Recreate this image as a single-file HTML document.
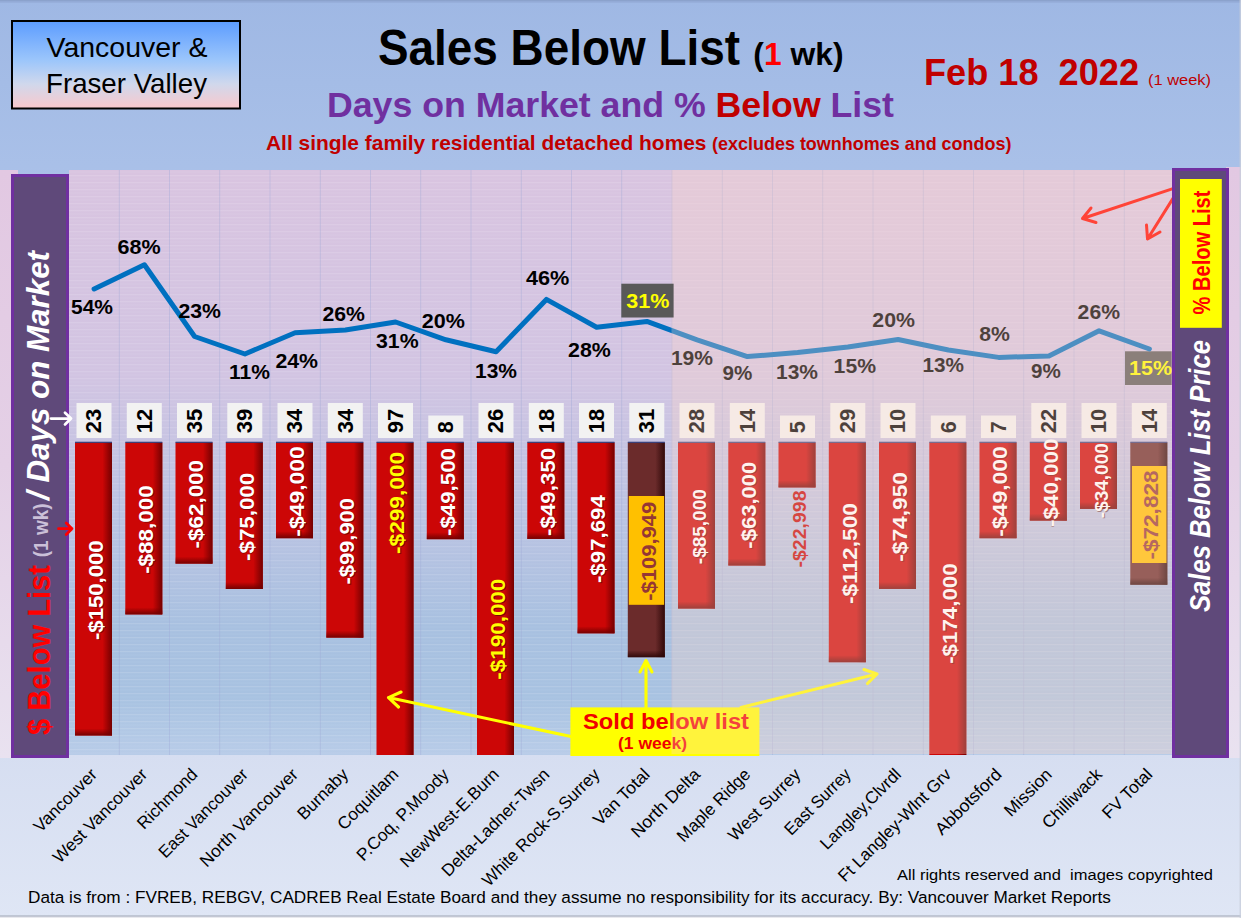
<!DOCTYPE html>
<html><head><meta charset="utf-8"><title>Sales Below List</title>
<style>html,body{margin:0;padding:0;background:#a4bce6;}body{width:1241px;height:918px;overflow:hidden;font-family:"Liberation Sans",sans-serif;}svg{display:block;}</style></head>
<body>
<svg width="1241" height="918" viewBox="0 0 1241 918" font-family="Liberation Sans, sans-serif">
<defs>
<linearGradient id="bg" x1="0" y1="0" x2="0" y2="1">
<stop offset="0" stop-color="#9fb8e4"/><stop offset="0.18" stop-color="#a9c0e8"/><stop offset="0.82" stop-color="#d6def1"/><stop offset="1" stop-color="#dfe6f5"/></linearGradient>
<linearGradient id="plot" x1="0" y1="0" x2="0" y2="1">
<stop offset="0" stop-color="#d9c4e0"/><stop offset="0.35" stop-color="#d2c4e2"/><stop offset="0.60" stop-color="#bac3e2"/><stop offset="0.78" stop-color="#a8c0e0"/><stop offset="0.9" stop-color="#a8c2e1"/><stop offset="1" stop-color="#b8cce8"/></linearGradient>
<linearGradient id="lstrip" x1="0" y1="0" x2="0" y2="1">
<stop offset="0" stop-color="#e2c8e2"/><stop offset="0.5" stop-color="#e4d0e6"/><stop offset="1" stop-color="#e9e2f0"/></linearGradient>
<linearGradient id="tbox" x1="0" y1="0" x2="0" y2="1">
<stop offset="0" stop-color="#5c9cff"/><stop offset="0.45" stop-color="#9cc6fb"/><stop offset="0.72" stop-color="#d0d8ec"/><stop offset="1" stop-color="#fac8cc"/></linearGradient>
<linearGradient id="er" x1="0" y1="0" x2="1" y2="0"><stop offset="0" stop-color="#700000" stop-opacity="0"/><stop offset="1" stop-color="#700000" stop-opacity="0.95"/></linearGradient>
<linearGradient id="eb" x1="0" y1="0" x2="0" y2="1"><stop offset="0" stop-color="#700000" stop-opacity="0"/><stop offset="1" stop-color="#700000" stop-opacity="0.95"/></linearGradient>
<linearGradient id="erd" x1="0" y1="0" x2="1" y2="0"><stop offset="0" stop-color="#2a0606" stop-opacity="0"/><stop offset="1" stop-color="#2a0606" stop-opacity="0.9"/></linearGradient>
<linearGradient id="ebd" x1="0" y1="0" x2="0" y2="1"><stop offset="0" stop-color="#2a0606" stop-opacity="0"/><stop offset="1" stop-color="#2a0606" stop-opacity="0.9"/></linearGradient>
<pattern id="stripes" width="4" height="7" patternUnits="userSpaceOnUse"><rect width="4" height="1.2" fill="#ffffff" opacity="0.12"/><rect y="3.5" width="4" height="1" fill="#ffffff" opacity="0.05"/></pattern>
<clipPath id="plotclip"><rect x="0" y="0" width="1241" height="755"/></clipPath>
</defs>
<rect width="1241" height="918" fill="url(#bg)"/>
<rect x="0" y="0" width="1241" height="1.2" fill="#7f93bd" opacity="0.6"/><rect x="0" y="1.2" width="1241" height="1.6" fill="#7f93bd" opacity="0.28"/>
<rect x="0" y="170" width="18" height="588" fill="url(#lstrip)"/>
<rect x="1226" y="167" width="15" height="591" fill="url(#lstrip)"/>
<rect x="69.0" y="170" width="1105.0" height="585" fill="url(#plot)"/>
<rect x="69.0" y="170" width="1105.0" height="585" fill="url(#stripes)"/>
<rect x="118.8" y="170" width="1" height="585" fill="#9fa8d8" opacity="0.38"/>
<rect x="169.0" y="170" width="1" height="585" fill="#9fa8d8" opacity="0.38"/>
<rect x="219.2" y="170" width="1" height="585" fill="#9fa8d8" opacity="0.38"/>
<rect x="269.5" y="170" width="1" height="585" fill="#9fa8d8" opacity="0.38"/>
<rect x="319.8" y="170" width="1" height="585" fill="#9fa8d8" opacity="0.38"/>
<rect x="370.0" y="170" width="1" height="585" fill="#9fa8d8" opacity="0.38"/>
<rect x="420.2" y="170" width="1" height="585" fill="#9fa8d8" opacity="0.38"/>
<rect x="470.5" y="170" width="1" height="585" fill="#9fa8d8" opacity="0.38"/>
<rect x="520.8" y="170" width="1" height="585" fill="#9fa8d8" opacity="0.38"/>
<rect x="571.0" y="170" width="1" height="585" fill="#9fa8d8" opacity="0.38"/>
<rect x="621.2" y="170" width="1" height="585" fill="#9fa8d8" opacity="0.38"/>
<rect x="671.5" y="170" width="1" height="585" fill="#9fa8d8" opacity="0.38"/>
<rect x="721.8" y="170" width="1" height="585" fill="#9fa8d8" opacity="0.38"/>
<rect x="772.0" y="170" width="1" height="585" fill="#9fa8d8" opacity="0.38"/>
<rect x="822.2" y="170" width="1" height="585" fill="#9fa8d8" opacity="0.38"/>
<rect x="872.5" y="170" width="1" height="585" fill="#9fa8d8" opacity="0.38"/>
<rect x="922.8" y="170" width="1" height="585" fill="#9fa8d8" opacity="0.38"/>
<rect x="973.0" y="170" width="1" height="585" fill="#9fa8d8" opacity="0.38"/>
<rect x="1023.2" y="170" width="1" height="585" fill="#9fa8d8" opacity="0.38"/>
<rect x="1073.5" y="170" width="1" height="585" fill="#9fa8d8" opacity="0.38"/>
<rect x="1123.8" y="170" width="1" height="585" fill="#9fa8d8" opacity="0.38"/>
<rect x="12" y="21" width="228" height="87.5" fill="url(#tbox)" stroke="#000" stroke-width="2"/>
<text x="46.5" y="56.8" font-size="28" textLength="161" lengthAdjust="spacingAndGlyphs">Vancouver &amp;</text>
<text x="46" y="93.4" font-size="28" textLength="161" lengthAdjust="spacingAndGlyphs">Fraser Valley</text>
<text x="378" y="64.7" font-size="49.5" font-weight="bold" textLength="362" lengthAdjust="spacingAndGlyphs">Sales Below List</text>
<text x="753.3" y="64.8" font-size="31" font-weight="bold" textLength="90.2" lengthAdjust="spacingAndGlyphs">(<tspan fill="#f00">1</tspan> wk)</text>
<text x="327" y="117" font-size="35" font-weight="bold" fill="#7030a0" textLength="567" lengthAdjust="spacingAndGlyphs">Days on Market and % <tspan fill="#c00000">Below</tspan> List</text>
<text x="266" y="150" font-size="21" font-weight="bold" fill="#c00000" textLength="440.5" lengthAdjust="spacingAndGlyphs">All single family residential detached homes</text>
<text x="712" y="150" font-size="18.5" font-weight="bold" fill="#c00000" textLength="299.5" lengthAdjust="spacingAndGlyphs">(excludes townhomes and condos)</text>
<text x="924" y="84.5" font-size="36.5" font-weight="bold" fill="#c00000" textLength="215" lengthAdjust="spacingAndGlyphs" xml:space="preserve" style="white-space:pre">Feb 18  2022</text>
<text x="1148" y="84.5" font-size="15.5" fill="#c00000" textLength="63" lengthAdjust="spacingAndGlyphs">(1 week)</text>
<rect x="76.5" y="403" width="35" height="35" fill="#f2f2f2"/>
<text transform="translate(101.3 421.0) rotate(-90)" text-anchor="middle" font-size="21.6" font-weight="bold" textLength="24.5" lengthAdjust="spacingAndGlyphs">23</text>
<rect x="126.8" y="403" width="35" height="35" fill="#f2f2f2"/>
<text transform="translate(151.6 421.0) rotate(-90)" text-anchor="middle" font-size="21.6" font-weight="bold" textLength="24.5" lengthAdjust="spacingAndGlyphs">12</text>
<rect x="177.0" y="403" width="35" height="35" fill="#f2f2f2"/>
<text transform="translate(201.8 421.0) rotate(-90)" text-anchor="middle" font-size="21.6" font-weight="bold" textLength="24.5" lengthAdjust="spacingAndGlyphs">35</text>
<rect x="227.3" y="403" width="35" height="35" fill="#f2f2f2"/>
<text transform="translate(252.1 421.0) rotate(-90)" text-anchor="middle" font-size="21.6" font-weight="bold" textLength="24.5" lengthAdjust="spacingAndGlyphs">39</text>
<rect x="277.5" y="403" width="35" height="35" fill="#f2f2f2"/>
<text transform="translate(302.3 421.0) rotate(-90)" text-anchor="middle" font-size="21.6" font-weight="bold" textLength="24.5" lengthAdjust="spacingAndGlyphs">34</text>
<rect x="327.8" y="403" width="35" height="35" fill="#f2f2f2"/>
<text transform="translate(352.6 421.0) rotate(-90)" text-anchor="middle" font-size="21.6" font-weight="bold" textLength="24.5" lengthAdjust="spacingAndGlyphs">34</text>
<rect x="378.0" y="403" width="35" height="35" fill="#f2f2f2"/>
<text transform="translate(402.8 421.0) rotate(-90)" text-anchor="middle" font-size="21.6" font-weight="bold" textLength="24.5" lengthAdjust="spacingAndGlyphs">97</text>
<rect x="428.3" y="415.5" width="35" height="22.5" fill="#f2f2f2"/>
<text transform="translate(453.1 427.2) rotate(-90)" text-anchor="middle" font-size="21.6" font-weight="bold" textLength="12" lengthAdjust="spacingAndGlyphs">8</text>
<rect x="478.5" y="403" width="35" height="35" fill="#f2f2f2"/>
<text transform="translate(503.3 421.0) rotate(-90)" text-anchor="middle" font-size="21.6" font-weight="bold" textLength="24.5" lengthAdjust="spacingAndGlyphs">26</text>
<rect x="528.8" y="403" width="35" height="35" fill="#f2f2f2"/>
<text transform="translate(553.6 421.0) rotate(-90)" text-anchor="middle" font-size="21.6" font-weight="bold" textLength="24.5" lengthAdjust="spacingAndGlyphs">18</text>
<rect x="579.0" y="403" width="35" height="35" fill="#f2f2f2"/>
<text transform="translate(603.8 421.0) rotate(-90)" text-anchor="middle" font-size="21.6" font-weight="bold" textLength="24.5" lengthAdjust="spacingAndGlyphs">18</text>
<rect x="629.3" y="403" width="35" height="35" fill="#f2f2f2"/>
<text transform="translate(654.1 421.0) rotate(-90)" text-anchor="middle" font-size="21.6" font-weight="bold" textLength="24.5" lengthAdjust="spacingAndGlyphs">31</text>
<rect x="679.5" y="403" width="35" height="35" fill="#f2f2f2"/>
<text transform="translate(704.3 421.0) rotate(-90)" text-anchor="middle" font-size="21.6" font-weight="bold" textLength="24.5" lengthAdjust="spacingAndGlyphs">28</text>
<rect x="729.8" y="403" width="35" height="35" fill="#f2f2f2"/>
<text transform="translate(754.6 421.0) rotate(-90)" text-anchor="middle" font-size="21.6" font-weight="bold" textLength="24.5" lengthAdjust="spacingAndGlyphs">14</text>
<rect x="780.0" y="415.5" width="35" height="22.5" fill="#f2f2f2"/>
<text transform="translate(804.8 427.2) rotate(-90)" text-anchor="middle" font-size="21.6" font-weight="bold" textLength="12" lengthAdjust="spacingAndGlyphs">5</text>
<rect x="830.3" y="403" width="35" height="35" fill="#f2f2f2"/>
<text transform="translate(855.1 421.0) rotate(-90)" text-anchor="middle" font-size="21.6" font-weight="bold" textLength="24.5" lengthAdjust="spacingAndGlyphs">29</text>
<rect x="880.5" y="403" width="35" height="35" fill="#f2f2f2"/>
<text transform="translate(905.3 421.0) rotate(-90)" text-anchor="middle" font-size="21.6" font-weight="bold" textLength="24.5" lengthAdjust="spacingAndGlyphs">10</text>
<rect x="930.8" y="415.5" width="35" height="22.5" fill="#f2f2f2"/>
<text transform="translate(955.6 427.2) rotate(-90)" text-anchor="middle" font-size="21.6" font-weight="bold" textLength="12" lengthAdjust="spacingAndGlyphs">6</text>
<rect x="981.0" y="415.5" width="35" height="22.5" fill="#f2f2f2"/>
<text transform="translate(1005.8 427.2) rotate(-90)" text-anchor="middle" font-size="21.6" font-weight="bold" textLength="12" lengthAdjust="spacingAndGlyphs">7</text>
<rect x="1031.3" y="403" width="35" height="35" fill="#f2f2f2"/>
<text transform="translate(1056.1 421.0) rotate(-90)" text-anchor="middle" font-size="21.6" font-weight="bold" textLength="24.5" lengthAdjust="spacingAndGlyphs">22</text>
<rect x="1081.5" y="403" width="35" height="35" fill="#f2f2f2"/>
<text transform="translate(1106.3 421.0) rotate(-90)" text-anchor="middle" font-size="21.6" font-weight="bold" textLength="24.5" lengthAdjust="spacingAndGlyphs">10</text>
<rect x="1131.8" y="403" width="35" height="35" fill="#f2f2f2"/>
<text transform="translate(1156.6 421.0) rotate(-90)" text-anchor="middle" font-size="21.6" font-weight="bold" textLength="24.5" lengthAdjust="spacingAndGlyphs">14</text>
<g clip-path="url(#plotclip)">
<rect x="75.0" y="442.5" width="37" height="293.0" fill="#cc0606"/>
<rect x="102.5" y="442.5" width="9.5" height="293.0" fill="url(#er)"/>
<rect x="75.0" y="728.5" width="37" height="7" fill="url(#eb)"/>
<rect x="75.0" y="441.7" width="37" height="1.2" fill="#303a78"/>
<rect x="125.3" y="442.5" width="37" height="171.9" fill="#cc0606"/>
<rect x="152.8" y="442.5" width="9.5" height="171.9" fill="url(#er)"/>
<rect x="125.3" y="607.4" width="37" height="7" fill="url(#eb)"/>
<rect x="125.3" y="441.7" width="37" height="1.2" fill="#303a78"/>
<rect x="175.5" y="442.5" width="37" height="121.1" fill="#cc0606"/>
<rect x="203.0" y="442.5" width="9.5" height="121.1" fill="url(#er)"/>
<rect x="175.5" y="556.6" width="37" height="7" fill="url(#eb)"/>
<rect x="175.5" y="441.7" width="37" height="1.2" fill="#303a78"/>
<rect x="225.8" y="442.5" width="37" height="146.5" fill="#cc0606"/>
<rect x="253.3" y="442.5" width="9.5" height="146.5" fill="url(#er)"/>
<rect x="225.8" y="582.0" width="37" height="7" fill="url(#eb)"/>
<rect x="225.8" y="441.7" width="37" height="1.2" fill="#303a78"/>
<rect x="276.0" y="442.5" width="37" height="95.7" fill="#cc0606"/>
<rect x="303.5" y="442.5" width="9.5" height="95.7" fill="url(#er)"/>
<rect x="276.0" y="531.2" width="37" height="7" fill="url(#eb)"/>
<rect x="276.0" y="441.7" width="37" height="1.2" fill="#303a78"/>
<rect x="326.3" y="442.5" width="37" height="195.1" fill="#cc0606"/>
<rect x="353.8" y="442.5" width="9.5" height="195.1" fill="url(#er)"/>
<rect x="326.3" y="630.6" width="37" height="7" fill="url(#eb)"/>
<rect x="326.3" y="441.7" width="37" height="1.2" fill="#303a78"/>
<rect x="376.5" y="442.5" width="37" height="583.9" fill="#cc0606"/>
<rect x="404.0" y="442.5" width="9.5" height="583.9" fill="url(#er)"/>
<rect x="376.5" y="441.7" width="37" height="1.2" fill="#303a78"/>
<rect x="426.8" y="442.5" width="37" height="96.7" fill="#cc0606"/>
<rect x="454.3" y="442.5" width="9.5" height="96.7" fill="url(#er)"/>
<rect x="426.8" y="532.2" width="37" height="7" fill="url(#eb)"/>
<rect x="426.8" y="441.7" width="37" height="1.2" fill="#303a78"/>
<rect x="477.0" y="442.5" width="37" height="371.1" fill="#cc0606"/>
<rect x="504.5" y="442.5" width="9.5" height="371.1" fill="url(#er)"/>
<rect x="477.0" y="441.7" width="37" height="1.2" fill="#303a78"/>
<rect x="527.3" y="442.5" width="37" height="96.4" fill="#cc0606"/>
<rect x="554.8" y="442.5" width="9.5" height="96.4" fill="url(#er)"/>
<rect x="527.3" y="531.9" width="37" height="7" fill="url(#eb)"/>
<rect x="527.3" y="441.7" width="37" height="1.2" fill="#303a78"/>
<rect x="577.5" y="442.5" width="37" height="190.8" fill="#cc0606"/>
<rect x="605.0" y="442.5" width="9.5" height="190.8" fill="url(#er)"/>
<rect x="577.5" y="626.3" width="37" height="7" fill="url(#eb)"/>
<rect x="577.5" y="441.7" width="37" height="1.2" fill="#303a78"/>
<rect x="627.8" y="442.5" width="37" height="214.7" fill="#6b2b2b"/>
<rect x="655.3" y="442.5" width="9.5" height="214.7" fill="url(#erd)"/>
<rect x="627.8" y="650.2" width="37" height="7" fill="url(#ebd)"/>
<rect x="627.8" y="441.7" width="37" height="1.2" fill="#303a78"/>
<rect x="678.0" y="442.5" width="37" height="166.0" fill="#cc0606"/>
<rect x="705.5" y="442.5" width="9.5" height="166.0" fill="url(#er)"/>
<rect x="678.0" y="601.5" width="37" height="7" fill="url(#eb)"/>
<rect x="678.0" y="441.7" width="37" height="1.2" fill="#303a78"/>
<rect x="728.3" y="442.5" width="37" height="123.0" fill="#cc0606"/>
<rect x="755.8" y="442.5" width="9.5" height="123.0" fill="url(#er)"/>
<rect x="728.3" y="558.5" width="37" height="7" fill="url(#eb)"/>
<rect x="728.3" y="441.7" width="37" height="1.2" fill="#303a78"/>
<rect x="778.5" y="442.5" width="37" height="44.9" fill="#cc0606"/>
<rect x="806.0" y="442.5" width="9.5" height="44.9" fill="url(#er)"/>
<rect x="778.5" y="480.4" width="37" height="7" fill="url(#eb)"/>
<rect x="778.5" y="441.7" width="37" height="1.2" fill="#303a78"/>
<rect x="828.8" y="442.5" width="37" height="219.7" fill="#cc0606"/>
<rect x="856.3" y="442.5" width="9.5" height="219.7" fill="url(#er)"/>
<rect x="828.8" y="655.2" width="37" height="7" fill="url(#eb)"/>
<rect x="828.8" y="441.7" width="37" height="1.2" fill="#303a78"/>
<rect x="879.0" y="442.5" width="37" height="146.4" fill="#cc0606"/>
<rect x="906.5" y="442.5" width="9.5" height="146.4" fill="url(#er)"/>
<rect x="879.0" y="581.9" width="37" height="7" fill="url(#eb)"/>
<rect x="879.0" y="441.7" width="37" height="1.2" fill="#303a78"/>
<rect x="929.3" y="442.5" width="37" height="339.8" fill="#cc0606"/>
<rect x="956.8" y="442.5" width="9.5" height="339.8" fill="url(#er)"/>
<rect x="929.3" y="441.7" width="37" height="1.2" fill="#303a78"/>
<rect x="979.5" y="442.5" width="37" height="95.7" fill="#cc0606"/>
<rect x="1007.0" y="442.5" width="9.5" height="95.7" fill="url(#er)"/>
<rect x="979.5" y="531.2" width="37" height="7" fill="url(#eb)"/>
<rect x="979.5" y="441.7" width="37" height="1.2" fill="#303a78"/>
<rect x="1029.8" y="442.5" width="37" height="78.1" fill="#cc0606"/>
<rect x="1057.3" y="442.5" width="9.5" height="78.1" fill="url(#er)"/>
<rect x="1029.8" y="513.6" width="37" height="7" fill="url(#eb)"/>
<rect x="1029.8" y="441.7" width="37" height="1.2" fill="#303a78"/>
<rect x="1080.0" y="442.5" width="37" height="66.4" fill="#cc0606"/>
<rect x="1107.5" y="442.5" width="9.5" height="66.4" fill="url(#er)"/>
<rect x="1080.0" y="501.9" width="37" height="7" fill="url(#eb)"/>
<rect x="1080.0" y="441.7" width="37" height="1.2" fill="#303a78"/>
<rect x="1130.3" y="442.5" width="37" height="142.2" fill="#6b2b2b"/>
<rect x="1157.8" y="442.5" width="9.5" height="142.2" fill="url(#erd)"/>
<rect x="1130.3" y="577.7" width="37" height="7" fill="url(#ebd)"/>
<rect x="1130.3" y="441.7" width="37" height="1.2" fill="#303a78"/>
</g>
<rect x="628.8" y="496" width="35.3" height="108.8" fill="#ffc000"/>
<rect x="1132" y="466" width="34.5" height="97" fill="#ffc000"/>
<text transform="translate(103.6 591.0) rotate(-90)" text-anchor="middle" font-size="20.7" font-weight="bold" fill="#400000" opacity="0.55" textLength="99.7" lengthAdjust="spacingAndGlyphs">-$150,000</text>
<text transform="translate(102.8 590.2) rotate(-90)" text-anchor="middle" font-size="20.7" font-weight="bold" fill="#fff" textLength="99.7" lengthAdjust="spacingAndGlyphs">-$150,000</text>
<text transform="translate(153.9 530.4) rotate(-90)" text-anchor="middle" font-size="20.7" font-weight="bold" fill="#400000" opacity="0.55" textLength="88.5" lengthAdjust="spacingAndGlyphs">-$88,000</text>
<text transform="translate(153.1 529.6) rotate(-90)" text-anchor="middle" font-size="20.7" font-weight="bold" fill="#fff" textLength="88.5" lengthAdjust="spacingAndGlyphs">-$88,000</text>
<text transform="translate(204.1 505.0) rotate(-90)" text-anchor="middle" font-size="20.7" font-weight="bold" fill="#400000" opacity="0.55" textLength="88.5" lengthAdjust="spacingAndGlyphs">-$62,000</text>
<text transform="translate(203.3 504.2) rotate(-90)" text-anchor="middle" font-size="20.7" font-weight="bold" fill="#fff" textLength="88.5" lengthAdjust="spacingAndGlyphs">-$62,000</text>
<text transform="translate(254.4 517.7) rotate(-90)" text-anchor="middle" font-size="20.7" font-weight="bold" fill="#400000" opacity="0.55" textLength="88.0" lengthAdjust="spacingAndGlyphs">-$75,000</text>
<text transform="translate(253.6 516.9) rotate(-90)" text-anchor="middle" font-size="20.7" font-weight="bold" fill="#fff" textLength="88.0" lengthAdjust="spacingAndGlyphs">-$75,000</text>
<text transform="translate(304.6 492.3) rotate(-90)" text-anchor="middle" font-size="20.7" font-weight="bold" fill="#400000" opacity="0.55" textLength="90.5" lengthAdjust="spacingAndGlyphs">-$49,000</text>
<text transform="translate(303.8 491.5) rotate(-90)" text-anchor="middle" font-size="20.7" font-weight="bold" fill="#fff" textLength="90.5" lengthAdjust="spacingAndGlyphs">-$49,000</text>
<text transform="translate(354.9 542.1) rotate(-90)" text-anchor="middle" font-size="20.7" font-weight="bold" fill="#400000" opacity="0.55" textLength="86.6" lengthAdjust="spacingAndGlyphs">-$99,900</text>
<text transform="translate(354.1 541.3) rotate(-90)" text-anchor="middle" font-size="20.7" font-weight="bold" fill="#fff" textLength="86.6" lengthAdjust="spacingAndGlyphs">-$99,900</text>
<text transform="translate(405.1 503.8) rotate(-90)" text-anchor="middle" font-size="20.7" font-weight="bold" fill="#400000" opacity="0.55" textLength="102.0" lengthAdjust="spacingAndGlyphs">-$299,000</text>
<text transform="translate(404.3 503.0) rotate(-90)" text-anchor="middle" font-size="20.7" font-weight="bold" fill="#ffff00" textLength="102.0" lengthAdjust="spacingAndGlyphs">-$299,000</text>
<text transform="translate(455.4 492.8) rotate(-90)" text-anchor="middle" font-size="20.7" font-weight="bold" fill="#400000" opacity="0.55" textLength="88.0" lengthAdjust="spacingAndGlyphs">-$49,500</text>
<text transform="translate(454.6 492.0) rotate(-90)" text-anchor="middle" font-size="20.7" font-weight="bold" fill="#fff" textLength="88.0" lengthAdjust="spacingAndGlyphs">-$49,500</text>
<text transform="translate(505.6 630.0) rotate(-90)" text-anchor="middle" font-size="20.7" font-weight="bold" fill="#400000" opacity="0.55" textLength="101.0" lengthAdjust="spacingAndGlyphs">-$190,000</text>
<text transform="translate(504.8 629.2) rotate(-90)" text-anchor="middle" font-size="20.7" font-weight="bold" fill="#ffff00" textLength="101.0" lengthAdjust="spacingAndGlyphs">-$190,000</text>
<text transform="translate(555.9 492.7) rotate(-90)" text-anchor="middle" font-size="20.7" font-weight="bold" fill="#400000" opacity="0.55" textLength="88.0" lengthAdjust="spacingAndGlyphs">-$49,350</text>
<text transform="translate(555.1 491.9) rotate(-90)" text-anchor="middle" font-size="20.7" font-weight="bold" fill="#fff" textLength="88.0" lengthAdjust="spacingAndGlyphs">-$49,350</text>
<text transform="translate(606.1 539.9) rotate(-90)" text-anchor="middle" font-size="20.7" font-weight="bold" fill="#400000" opacity="0.55" textLength="88.0" lengthAdjust="spacingAndGlyphs">-$97,694</text>
<text transform="translate(605.3 539.1) rotate(-90)" text-anchor="middle" font-size="20.7" font-weight="bold" fill="#fff" textLength="88.0" lengthAdjust="spacingAndGlyphs">-$97,694</text>
<text transform="translate(655.6 551.2) rotate(-90)" text-anchor="middle" font-size="20.7" font-weight="bold" fill="#953735" textLength="99.0" lengthAdjust="spacingAndGlyphs">-$109,949</text>
<text transform="translate(706.6 527.5) rotate(-90)" text-anchor="middle" font-size="18" font-weight="bold" fill="#400000" opacity="0.55" textLength="75.0" lengthAdjust="spacingAndGlyphs">-$85,000</text>
<text transform="translate(705.8 526.7) rotate(-90)" text-anchor="middle" font-size="18" font-weight="bold" fill="#fff" textLength="75.0" lengthAdjust="spacingAndGlyphs">-$85,000</text>
<text transform="translate(756.9 506.0) rotate(-90)" text-anchor="middle" font-size="20.7" font-weight="bold" fill="#400000" opacity="0.55" textLength="87.0" lengthAdjust="spacingAndGlyphs">-$63,000</text>
<text transform="translate(756.1 505.2) rotate(-90)" text-anchor="middle" font-size="20.7" font-weight="bold" fill="#fff" textLength="87.0" lengthAdjust="spacingAndGlyphs">-$63,000</text>
<text transform="translate(805.5 529.0) rotate(-90)" text-anchor="middle" font-size="17.5" font-weight="bold" fill="#c40808" textLength="77.0" lengthAdjust="spacingAndGlyphs">-$22,998</text>
<text transform="translate(857.4 554.4) rotate(-90)" text-anchor="middle" font-size="20.7" font-weight="bold" fill="#400000" opacity="0.55" textLength="101.0" lengthAdjust="spacingAndGlyphs">-$112,500</text>
<text transform="translate(856.6 553.6) rotate(-90)" text-anchor="middle" font-size="20.7" font-weight="bold" fill="#fff" textLength="101.0" lengthAdjust="spacingAndGlyphs">-$112,500</text>
<text transform="translate(907.6 517.7) rotate(-90)" text-anchor="middle" font-size="20.7" font-weight="bold" fill="#400000" opacity="0.55" textLength="89.7" lengthAdjust="spacingAndGlyphs">-$74,950</text>
<text transform="translate(906.8 516.9) rotate(-90)" text-anchor="middle" font-size="20.7" font-weight="bold" fill="#fff" textLength="89.7" lengthAdjust="spacingAndGlyphs">-$74,950</text>
<text transform="translate(957.9 614.4) rotate(-90)" text-anchor="middle" font-size="20.7" font-weight="bold" fill="#400000" opacity="0.55" textLength="100.5" lengthAdjust="spacingAndGlyphs">-$174,000</text>
<text transform="translate(957.1 613.6) rotate(-90)" text-anchor="middle" font-size="20.7" font-weight="bold" fill="#fff" textLength="100.5" lengthAdjust="spacingAndGlyphs">-$174,000</text>
<text transform="translate(1008.1 492.3) rotate(-90)" text-anchor="middle" font-size="20.7" font-weight="bold" fill="#400000" opacity="0.55" textLength="90.5" lengthAdjust="spacingAndGlyphs">-$49,000</text>
<text transform="translate(1007.3 491.5) rotate(-90)" text-anchor="middle" font-size="20.7" font-weight="bold" fill="#fff" textLength="90.5" lengthAdjust="spacingAndGlyphs">-$49,000</text>
<text transform="translate(1058.4 483.6) rotate(-90)" text-anchor="middle" font-size="20.7" font-weight="bold" fill="#400000" opacity="0.55" textLength="88.3" lengthAdjust="spacingAndGlyphs">-$40,000</text>
<text transform="translate(1057.6 482.8) rotate(-90)" text-anchor="middle" font-size="20.7" font-weight="bold" fill="#fff" textLength="88.3" lengthAdjust="spacingAndGlyphs">-$40,000</text>
<text transform="translate(1108.6 481.5) rotate(-90)" text-anchor="middle" font-size="18" font-weight="bold" fill="#400000" opacity="0.55" textLength="75.0" lengthAdjust="spacingAndGlyphs">-$34,000</text>
<text transform="translate(1107.8 480.7) rotate(-90)" text-anchor="middle" font-size="18" font-weight="bold" fill="#fff" textLength="75.0" lengthAdjust="spacingAndGlyphs">-$34,000</text>
<text transform="translate(1158.1 515.0) rotate(-90)" text-anchor="middle" font-size="20.7" font-weight="bold" fill="#953735" textLength="89.0" lengthAdjust="spacingAndGlyphs">-$72,828</text>
<rect x="1125" y="351.3" width="46.7" height="33.7" fill="#595959"/>
<polyline points="94.1,289 144.4,264.8 194.6,336.5 244.9,354 295.1,332.8 345.4,330 395.6,322 445.9,339.8 496.1,351.8 546.4,299.4 596.6,327.3 646.9,321.4 697.1,339.8 747.4,356.6 797.6,352.5 847.9,347 898.1,339.5 948.4,350 998.6,357.4 1048.9,356 1099.1,330.8 1149.4,349" fill="none" stroke="#0070c0" stroke-width="5" stroke-linejoin="round" stroke-linecap="round"/>
<text x="71.0" y="313.6" font-size="21" font-weight="bold" fill="#000" textLength="42.0" lengthAdjust="spacingAndGlyphs">54%</text>
<text x="117.5" y="253.6" font-size="21" font-weight="bold" fill="#000" textLength="43.1" lengthAdjust="spacingAndGlyphs">68%</text>
<text x="178.5" y="317.7" font-size="21" font-weight="bold" fill="#000" textLength="42.5" lengthAdjust="spacingAndGlyphs">23%</text>
<text x="229.0" y="379.2" font-size="21" font-weight="bold" fill="#000" textLength="41.0" lengthAdjust="spacingAndGlyphs">11%</text>
<text x="275.4" y="367.6" font-size="21" font-weight="bold" fill="#000" textLength="42.6" lengthAdjust="spacingAndGlyphs">24%</text>
<text x="322.5" y="320.5" font-size="21" font-weight="bold" fill="#000" textLength="42.5" lengthAdjust="spacingAndGlyphs">26%</text>
<text x="376.0" y="348.2" font-size="21" font-weight="bold" fill="#000" textLength="42.6" lengthAdjust="spacingAndGlyphs">31%</text>
<text x="421.7" y="327.5" font-size="21" font-weight="bold" fill="#000" textLength="43.1" lengthAdjust="spacingAndGlyphs">20%</text>
<text x="475.0" y="378.0" font-size="21" font-weight="bold" fill="#000" textLength="42.0" lengthAdjust="spacingAndGlyphs">13%</text>
<text x="526.0" y="285.0" font-size="21" font-weight="bold" fill="#000" textLength="43.4" lengthAdjust="spacingAndGlyphs">46%</text>
<text x="568.0" y="357.2" font-size="21" font-weight="bold" fill="#000" textLength="42.8" lengthAdjust="spacingAndGlyphs">28%</text>
<text x="670.9" y="365.2" font-size="21" font-weight="bold" fill="#000" textLength="42.1" lengthAdjust="spacingAndGlyphs">19%</text>
<text x="722.5" y="379.8" font-size="21" font-weight="bold" fill="#000" textLength="29.8" lengthAdjust="spacingAndGlyphs">9%</text>
<text x="776.0" y="379.2" font-size="21" font-weight="bold" fill="#000" textLength="42.0" lengthAdjust="spacingAndGlyphs">13%</text>
<text x="833.6" y="372.8" font-size="21" font-weight="bold" fill="#000" textLength="42.4" lengthAdjust="spacingAndGlyphs">15%</text>
<text x="872.3" y="326.8" font-size="21" font-weight="bold" fill="#000" textLength="42.7" lengthAdjust="spacingAndGlyphs">20%</text>
<text x="922.5" y="371.8" font-size="21" font-weight="bold" fill="#000" textLength="41.5" lengthAdjust="spacingAndGlyphs">13%</text>
<text x="979.3" y="341.2" font-size="21" font-weight="bold" fill="#000" textLength="30.7" lengthAdjust="spacingAndGlyphs">8%</text>
<text x="1031.0" y="378.0" font-size="21" font-weight="bold" fill="#000" textLength="29.8" lengthAdjust="spacingAndGlyphs">9%</text>
<text x="1077.6" y="318.8" font-size="21" font-weight="bold" fill="#000" textLength="42.4" lengthAdjust="spacingAndGlyphs">26%</text>
<text x="1129.0" y="375.2" font-size="21" font-weight="bold" fill="#ffff00" textLength="43.0" lengthAdjust="spacingAndGlyphs">15%</text>
<rect x="570.4" y="707.4" width="189" height="48.6" fill="#ffff00"/>
<g stroke="#ffff00" stroke-width="3.1" fill="none" stroke-linecap="round" stroke-linejoin="round">
<path d="M571 736.5 L388.5 697.6 M401 692 L388.5 697.6 L398.5 707"/>
<path d="M646 707.4 L646 660.5 M640 672 L646 660.5 L652 672"/>
<path d="M741 707.4 L877 674 M864 669.5 L877 674 L867.5 683.5"/>
</g>
<text x="583" y="728.6" font-size="22.5" font-weight="bold" fill="#f00000" textLength="166" lengthAdjust="spacingAndGlyphs">Sold below list</text>
<text x="618" y="749.2" font-size="16" font-weight="bold" fill="#f00000" textLength="69" lengthAdjust="spacingAndGlyphs">(1 week)</text>
<rect x="671.5" y="170" width="502" height="584" fill="#ffd7c8" opacity="0.3"/>
<rect x="621.3" y="283.7" width="52.3" height="33.8" fill="#595959"/>
<text x="626.3" y="308.2" font-size="21" font-weight="bold" fill="#ffff00" textLength="43.1" lengthAdjust="spacingAndGlyphs">31%</text>
<g stroke="#ff4438" stroke-width="3" fill="none" stroke-linecap="round" stroke-linejoin="round"><path d="M1176 187.7 L1082.5 218.5 M1091 208 L1082.5 218.5 L1096 222.5"/><path d="M1176 193.6 L1147.5 239 M1146.5 225 L1147.5 239 L1160 232"/></g>
<rect x="12.5" y="175.5" width="55" height="581" fill="#5f497a" stroke="#7030a0" stroke-width="3"/>
<rect x="1173.5" y="169.5" width="54" height="587" fill="#5f497a" stroke="#7030a0" stroke-width="3"/>
<rect x="1180" y="179" width="41.8" height="148.8" fill="#ffff00"/>
<text transform="translate(49.7 735) rotate(-90)" font-size="30.5" font-weight="bold" fill="#ff0000" textLength="170" lengthAdjust="spacingAndGlyphs">$ Below List</text>
<text transform="translate(48.3 557.3) rotate(-90)" font-size="20.5" font-weight="bold" fill="#cbc0d8" textLength="54" lengthAdjust="spacingAndGlyphs">(1 wk)</text>
<text transform="translate(49.2 500) rotate(-90)" font-size="31" font-weight="bold" font-style="italic" fill="#fff" textLength="249" lengthAdjust="spacingAndGlyphs">/ Days on Market</text>
<text transform="translate(1210.2 612) rotate(-90)" font-size="30" font-weight="bold" font-style="italic" fill="#fff" textLength="272" lengthAdjust="spacingAndGlyphs">Sales Below List Price</text>
<text transform="translate(1210 314.5) rotate(-90)" font-size="23.5" font-weight="bold" fill="#ff0000" textLength="124" lengthAdjust="spacingAndGlyphs">% Below List</text>
<g stroke="#ffffff" stroke-width="2.8" fill="none" stroke-linecap="round" stroke-linejoin="round"><path d="M51 418.6 L71 418.6 M65 412.8 L71 418.6 L65 424.4"/></g>
<g stroke="#ff0000" stroke-width="2.8" fill="none" stroke-linecap="round" stroke-linejoin="round"><path d="M58.5 528.7 L72 528.7 M66.2 523 L72 528.7 L66.2 534.4"/></g>
<text transform="translate(98.1 775.5) rotate(-45)" text-anchor="end" font-size="17.2" fill="#000" textLength="81.5" lengthAdjust="spacingAndGlyphs">Vancouver</text>
<text transform="translate(148.4 775.5) rotate(-45)" text-anchor="end" font-size="17.2" fill="#000" textLength="125.3" lengthAdjust="spacingAndGlyphs">West Vancouver</text>
<text transform="translate(198.6 775.5) rotate(-45)" text-anchor="end" font-size="17.2" fill="#000" textLength="77.4" lengthAdjust="spacingAndGlyphs">Richmond</text>
<text transform="translate(248.9 775.5) rotate(-45)" text-anchor="end" font-size="17.2" fill="#000" textLength="118.1" lengthAdjust="spacingAndGlyphs">East Vancouver</text>
<text transform="translate(299.1 775.5) rotate(-45)" text-anchor="end" font-size="17.2" fill="#000" textLength="130.7" lengthAdjust="spacingAndGlyphs">North Vancouver</text>
<text transform="translate(349.4 775.5) rotate(-45)" text-anchor="end" font-size="17.2" fill="#000" textLength="64.0" lengthAdjust="spacingAndGlyphs">Burnaby</text>
<text transform="translate(399.6 775.5) rotate(-45)" text-anchor="end" font-size="17.2" fill="#000" textLength="78.4" lengthAdjust="spacingAndGlyphs">Coquitlam</text>
<text transform="translate(449.9 775.5) rotate(-45)" text-anchor="end" font-size="17.2" fill="#000" textLength="122.2" lengthAdjust="spacingAndGlyphs">P.Coq, P.Moody</text>
<text transform="translate(500.1 775.5) rotate(-45)" text-anchor="end" font-size="17.2" fill="#000" textLength="131.5" lengthAdjust="spacingAndGlyphs">NewWest-E.Burn</text>
<text transform="translate(550.4 775.5) rotate(-45)" text-anchor="end" font-size="17.2" fill="#000" textLength="144.2" lengthAdjust="spacingAndGlyphs">Delta-Ladner-Twsn</text>
<text transform="translate(600.6 775.5) rotate(-45)" text-anchor="end" font-size="17.2" fill="#000" textLength="157.9" lengthAdjust="spacingAndGlyphs">White Rock-S.Surrey</text>
<text transform="translate(650.9 775.5) rotate(-45)" text-anchor="end" font-size="17.2" fill="#000" textLength="72.1" lengthAdjust="spacingAndGlyphs">Van Total</text>
<text transform="translate(701.1 775.5) rotate(-45)" text-anchor="end" font-size="17.2" fill="#000" textLength="89.4" lengthAdjust="spacingAndGlyphs">North Delta</text>
<text transform="translate(751.4 775.5) rotate(-45)" text-anchor="end" font-size="17.2" fill="#000" textLength="95.5" lengthAdjust="spacingAndGlyphs">Maple Ridge</text>
<text transform="translate(801.6 775.5) rotate(-45)" text-anchor="end" font-size="17.2" fill="#000" textLength="94.2" lengthAdjust="spacingAndGlyphs">West Surrey</text>
<text transform="translate(851.9 775.5) rotate(-45)" text-anchor="end" font-size="17.2" fill="#000" textLength="85.8" lengthAdjust="spacingAndGlyphs">East Surrey</text>
<text transform="translate(902.1 775.5) rotate(-45)" text-anchor="end" font-size="17.2" fill="#000" textLength="106.1" lengthAdjust="spacingAndGlyphs">Langley,Clvrdl</text>
<text transform="translate(952.4 775.5) rotate(-45)" text-anchor="end" font-size="17.2" fill="#000" textLength="151.8" lengthAdjust="spacingAndGlyphs">Ft Langley-Wlnt Grv</text>
<text transform="translate(1002.6 775.5) rotate(-45)" text-anchor="end" font-size="17.2" fill="#000" textLength="85.6" lengthAdjust="spacingAndGlyphs">Abbotsford</text>
<text transform="translate(1052.9 775.5) rotate(-45)" text-anchor="end" font-size="17.2" fill="#000" textLength="59.3" lengthAdjust="spacingAndGlyphs">Mission</text>
<text transform="translate(1103.1 775.5) rotate(-45)" text-anchor="end" font-size="17.2" fill="#000" textLength="76.4" lengthAdjust="spacingAndGlyphs">Chilliwack</text>
<text transform="translate(1153.4 775.5) rotate(-45)" text-anchor="end" font-size="17.2" fill="#000" textLength="62.7" lengthAdjust="spacingAndGlyphs">FV Total</text>
<text x="897" y="880.4" font-size="15.4" fill="#000" textLength="316" lengthAdjust="spacingAndGlyphs" xml:space="preserve" style="white-space:pre">All rights reserved and  images copyrighted</text>
<text x="28" y="903" font-size="17.2" fill="#000">Data is from : FVREB, REBGV, CADREB Real Estate Board and they assume no responsibility for its accuracy. By: Vancouver Market Reports</text>
<rect x="0" y="915.5" width="1241" height="1.2" fill="#a0a6b4"/><rect x="0" y="916.7" width="1241" height="1.3" fill="#e8e9ee"/><rect x="1239.6" y="0" width="1.4" height="918" fill="#c8cedc" opacity="0.8"/>
</svg>
</body></html>
